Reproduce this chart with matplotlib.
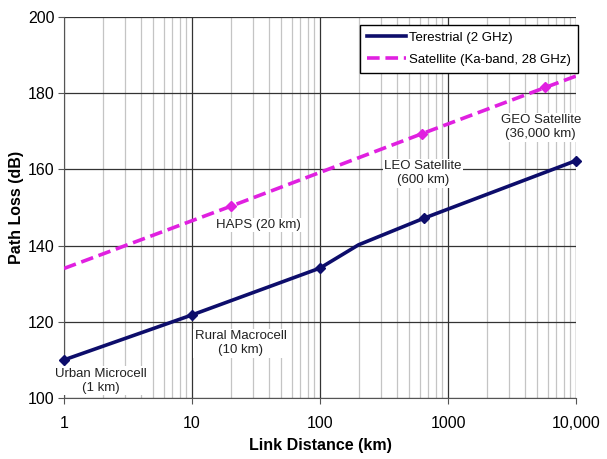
import matplotlib
matplotlib.use("Agg")
import matplotlib.pyplot as plt
from matplotlib.ticker import FixedLocator, FixedFormatter, LogLocator, NullFormatter
import numpy as np

plt.rcParams['font.family'] = ['Liberation Sans', 'DejaVu Sans']

# Data
terr_x = [1, 10, 100, 200, 650, 10000]
terr_y = [110, 121.8, 134.1, 140.2, 147.2, 162.3]
terr_marker_x = [1, 10, 100, 650, 10000]
terr_marker_y = [110, 121.8, 134.1, 147.2, 162.3]
sat_x = [1, 20, 630, 5750, 10000]
sat_y = [134, 150.3, 169.4, 181.5, 184.5]
sat_marker_x = [20, 630, 5750]
sat_marker_y = [150.3, 169.4, 181.5]
xticks = [1, 10, 100, 1000, 10000]
xtick_labels = ['1', '10', '100', '1000', '10,000']
yticks = [100, 120, 140, 160, 180, 200]

annotations = [
    ("Urban Microcell\n(1 km)", 1.95, 104.5),
    ("Rural Macrocell\n(10 km)", 24, 114.4),
    ("HAPS (20 km)", 33, 145.4),
    ("LEO Satellite\n(600 km)", 640, 159.0),
    ("GEO Satellite\n(36,000 km)", 5300, 171.1),
]

W, H = 607, 459
fig = plt.figure(figsize=(W/100, H/100), dpi=100)
ax = fig.add_axes([64/W, 1-398/H, (576-64)/W, (398-17)/H])

ax.set_xscale('log')
ax.set_xlim(1, 10000)
ax.set_ylim(100, 200)

ax.xaxis.set_major_locator(FixedLocator(xticks))
ax.xaxis.set_major_formatter(FixedFormatter(xtick_labels))
ax.xaxis.set_minor_locator(LogLocator(base=10, subs=np.arange(2, 10)))
ax.xaxis.set_minor_formatter(NullFormatter())
ax.set_yticks(yticks)

ax.grid(True, which='major', color='#333333', linewidth=0.9)
ax.grid(True, which='minor', axis='x', color='#c4c4c4', linewidth=0.9)
ax.set_axisbelow(True)

for s in ['top', 'right']:
    ax.spines[s].set_visible(False)
ax.spines['left'].set_color('#555555')
ax.spines['bottom'].set_color('#555555')

ax.tick_params(axis='y', which='major', labelsize=11.5, length=4, color='#555555', pad=3)
ax.tick_params(axis='x', which='major', labelsize=11.5, length=4, color='#555555', pad=9)
ax.tick_params(axis='x', which='minor', length=0)

for txt, x, y in annotations:
    ax.text(x, y, txt, ha='center', va='center', fontsize=9.5, color='#222222',
            linespacing=1.25, zorder=3,
            bbox=dict(facecolor='white', edgecolor='none', pad=1))

ax.plot(terr_x, terr_y, color='#0d0d6b', linewidth=2.6, label='Terestrial (2 GHz)', zorder=4)
ax.plot(terr_marker_x, terr_marker_y, linestyle='none', marker='D', markersize=5,
        color='#0d0d6b', zorder=5, clip_on=False)
ax.plot(sat_x, sat_y, color='#e020e0', linewidth=2.6, linestyle=(0, (3.5, 1.6)),
        label='Satellite (Ka-band, 28 GHz)', zorder=4)
ax.plot(sat_marker_x, sat_marker_y, linestyle='none', marker='D', markersize=5,
        color='#e020e0', zorder=5)

leg = ax.legend(loc='upper right', bbox_to_anchor=(1.003, 1 - 8/381), borderaxespad=0,
                fontsize=9.5, frameon=True, fancybox=False, edgecolor='black', framealpha=1,
                handlelength=3.0, handletextpad=0.2, borderpad=0.5, labelspacing=0.75)
leg.get_frame().set_linewidth(1.0)

ax.set_xlabel('Link Distance (km)', fontsize=11.5, fontweight='bold', labelpad=5)
ax.set_ylabel('Path Loss (dB)', fontsize=11.5, fontweight='bold')
ax.yaxis.set_label_coords(-(64-24)/(576-64), 0.5)

fig.savefig('out.png', dpi=100)
